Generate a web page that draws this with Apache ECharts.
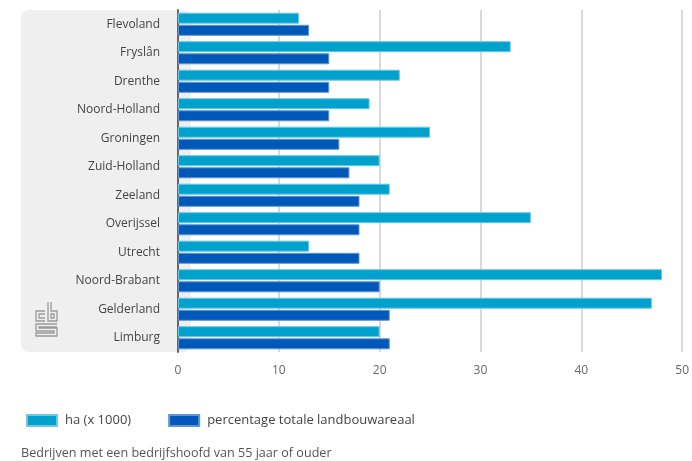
<!DOCTYPE html>
<html><head><meta charset="utf-8">
<script src="https://cdn.jsdelivr.net/npm/echarts@6/dist/echarts.min.js"></script>
<style>html,body{margin:0;padding:0;background:#fff}#c{width:692px;height:461px}</style>
</head><body><div id="c"></div>
<script>
const categories = ['Flevoland','Fryslân','Drenthe','Noord-Holland','Groningen','Zuid-Holland','Zeeland','Overijssel','Utrecht','Noord-Brabant','Gelderland','Limburg'];
const haValues = [12,33,22,19,25,20,21,35,13,48,47,20];
const pctValues = [13,15,15,15,16,17,18,18,18,20,21,21];
const xTicks = [0,10,20,30,40,50];
const seriesNames = ['ha (x 1000)','percentage totale landbouwareaal'];
const footer = 'Bedrijven met een bedrijfshoofd van 55 jaar of ouder';

const font = '"Open Sans", "Noto Sans", sans-serif';
const chart = echarts.init(document.getElementById('c'), null, {renderer:'canvas'});
const logo = '#9a9a9a';
chart.setOption({
  animation:false,
  textStyle:{fontFamily:font},
  grid:{left:178,right:8,top:10,bottom:109,containLabel:false},
  xAxis:{type:'value',min:xTicks[0],max:xTicks[xTicks.length-1],interval:10,
    axisLine:{show:false},axisTick:{show:false},
    axisLabel:{color:'#666',fontSize:12,margin:13,fontFamily:font},
    splitLine:{lineStyle:{color:'#d9d9d9',width:2}}},
  yAxis:{type:'category',data:categories,inverse:true,
    axisLine:{show:true,lineStyle:{color:'#666',width:2}},axisTick:{show:false},
    axisLabel:{color:'#444',fontSize:12,margin:18,fontFamily:font}},
  legend:{left:21,top:409,itemWidth:30,itemHeight:11,itemGap:37,icon:'rect',
    textStyle:{color:'#444',fontSize:13,fontFamily:font,padding:[0,0,0,3]},
    data:seriesNames},
  graphic:[
    {type:'rect',z:-10,shape:{x:21,y:10,width:170,height:342,r:8},style:{fill:'#efefef'}},
    {type:'text',left:21,top:447,style:{text:footer,fill:'#555',font:'12.6px '+font}},
    {type:'polyline',shape:{points:[[45,311],[36,311],[36,321],[45,321]]},style:{stroke:logo,lineWidth:1.3,fill:null}},
    {type:'polyline',shape:{points:[[45,314],[39,314],[39,318],[45,318]]},style:{stroke:logo,lineWidth:1.3,fill:null}},
    {type:'polyline',shape:{points:[[48,302],[48,321],[57,321],[57,311],[51,311],[51,302]]},style:{stroke:logo,lineWidth:1.3,fill:null}},
    {type:'rect',shape:{x:51,y:314,width:3,height:4},style:{stroke:logo,lineWidth:1.3,fill:null}},
    {type:'polyline',shape:{points:[[57,324],[36,324],[36,331],[54,331],[54,333],[36,333],[36,336],[57,336],[57,328],[39,328],[39,327],[57,327]]},style:{stroke:logo,lineWidth:1.3,fill:null}}
  ],
  series:[
    {name:seriesNames[0],type:'bar',data:haValues,barWidth:11,barGap:'10%',
      itemStyle:{color:'#00a1cd',borderColor:'#6cc8e3',borderWidth:1}},
    {name:seriesNames[1],type:'bar',data:pctValues,barWidth:11,barGap:'10%',
      itemStyle:{color:'#0058b8',borderColor:'#5f95d4',borderWidth:1}}
  ]
});
</script></body></html>
